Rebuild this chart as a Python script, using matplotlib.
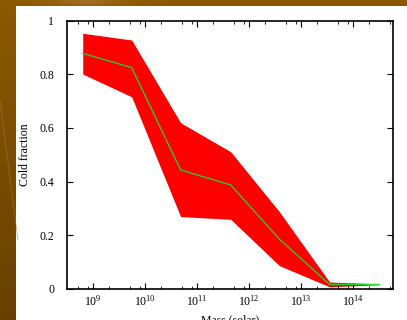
import numpy as np
import matplotlib
matplotlib.use('Agg')
from matplotlib import pyplot as plt
from matplotlib.ticker import LogLocator, LogFormatterMathtext, NullFormatter
from matplotlib.patches import Rectangle

# halo mass bins and cold fraction (median and spread)
mass = [6.3e8, 5.5e9, 4.8e10, 4.4e11, 3.8e12, 3.5e13, 3.2e14]
cold_mid = [0.878, 0.825, 0.443, 0.387, 0.185, 0.016, 0.016]
cold_low = [0.801, 0.716, 0.269, 0.259, 0.086, 0.007, 0.015]
cold_high = [0.953, 0.928, 0.619, 0.511, 0.287, 0.025, 0.018]

yticks = [0, 0.2, 0.4, 0.6, 0.8, 1]
ylabels = ['0', '0.2', '0.4', '0.6', '0.8', '1']

plt.rcParams['font.family'] = 'Liberation Serif'
plt.rcParams['mathtext.fontset'] = 'custom'
plt.rcParams['mathtext.rm'] = 'Liberation Serif'
plt.rcParams['mathtext.it'] = 'Liberation Serif:italic'

W, H = 407, 320
fig = plt.figure(figsize=(W/100., H/100.), dpi=100)

# slide background: brown gradient with a white panel
bg = fig.add_axes([0, 0, 1, 1], zorder=-10)
yy, xx = np.mgrid[0:H, 0:W]
t = yy / float(H)
r = 0.55 - 0.14*t
g = 0.35 - 0.10*t
b = 0.00 + 0.0*t
glow = np.exp(-((xx-85.)**2/(2*25.**2))) * np.exp(-(yy/6.)**2)
r = r + 0.08*glow
g = g + 0.08*glow
b = b + 0.15*glow
img = np.dstack([r, g, b]).clip(0, 1)
bg.imshow(img, extent=[0, W, H, 0], aspect='auto')
bg.plot([0, 18], [100, 240], color=(0.65, 0.48, 0.25), lw=0.6, alpha=0.6)
bg.add_patch(Rectangle((16, 6), W-16, H-6, facecolor='white', edgecolor='none'))
bg.set_xlim(0, W)
bg.set_ylim(H, 0)
bg.axis('off')

ax = fig.add_axes([66.7/W, 1-288.7/H, (393-66.7)/W, (288.7-20.7)/H])
ax.fill_between(mass, cold_low, cold_high, color='#ff0000', lw=0)
ax.plot(mass, cold_mid, color='#22d822', lw=0.9)

ax.set_xscale('log')
ax.set_xlim(3.1e8, 5.8e14)
ax.set_ylim(0, 1)
ax.xaxis.set_major_locator(LogLocator(base=10, numticks=20))
ax.xaxis.set_minor_locator(LogLocator(base=10, subs=(2, 5, 8), numticks=20))
ax.xaxis.set_major_formatter(LogFormatterMathtext())
ax.xaxis.set_minor_formatter(NullFormatter())
ax.set_yticks(yticks)
ax.set_yticklabels(ylabels)

ax.tick_params(which='both', direction='in', top=True, right=True, labelsize=8.5, colors='black')
ax.tick_params(axis='x', which='major', length=4, width=0.8, pad=4)
ax.tick_params(axis='x', which='minor', length=2, width=0.6)
ax.tick_params(axis='y', which='major', length=4, width=0.8, pad=9)
for s in ax.spines.values():
    s.set_linewidth(1.2)

ax.set_xlabel('Mass (solar)', fontsize=8.5, labelpad=4)
ax.set_ylabel('Cold fraction', fontsize=8.5, labelpad=6)

fig.savefig('out.png', dpi=100)
